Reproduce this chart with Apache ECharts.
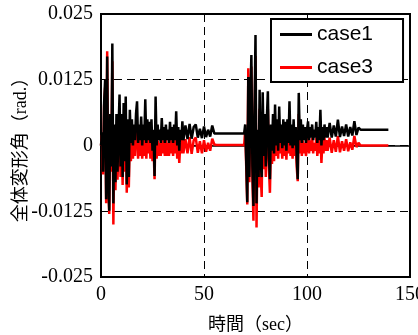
<!DOCTYPE html>
<html>
<head>
<meta charset="utf-8">
<script src="https://cdn.jsdelivr.net/npm/echarts@6/dist/echarts.min.js"></script>
<style>
html,body{margin:0;padding:0;background:#fff;}
#chart{width:418px;height:335px;}
</style>
</head>
<body>
<div id="chart"></div>
<script>
// time (sec)
var time = [
  0,0.5,1,1.5,2,2.5,3,3.5,4,4.5,
  5,5.5,6,6.5,7,7.5,8,8.5,9,9.5,
  10,10.5,11,11.5,12,12.5,13,13.5,14,14.5,
  15,15.5,16,16.5,17,17.5,18,18.5,19,19.5,
  20,20.5,21,21.5,22,22.5,23,23.5,24,24.5,
  25,25.5,26,26.5,27,27.5,28,28.5,29,29.5,
  30,30.5,31,31.5,32,32.5,33,33.5,34,34.5,
  35,35.5,36,36.5,37,37.5,38,38.5,39,39.5,
  40,41,42,43,44,45,46,47,48,49,
  50,51,52,53,54,55,56,69.5,
  70,70.5,71,71.5,72,72.5,73,73.5,74,74.5,
  75,75.5,76,76.5,77,77.5,78,78.5,79,79.5,
  80,80.5,81,81.5,82,82.5,83,83.5,84,84.5,
  85,85.5,86,86.5,87,87.5,88,88.5,89,89.5,
  90,90.5,91,91.5,92,92.5,93,93.5,94,94.5,
  95,95.5,96,96.5,97,97.5,98,98.5,99,99.5,
  100,100.5,101,101.5,102,102.5,103,103.5,104,104.5,
  105,105.5,106,106.5,107,107.5,108,108.5,109,109.5,
  110,111,112,113,114,115,116,117,118,119,
  120,121,122,123,124,125,126,139.5
];
// case1 (rad.)
var case1 = [
  0,0.0025,-0.005,0.008,0.0125,-0.0102,0.0169,-0.006,-0.0124,0.006,
  -0.004,0.0194,-0.011,0.004,-0.007,0.006,-0.005,0.003,0.0097,-0.004,
  0.006,-0.006,0.0081,-0.003,0.0093,-0.0074,0.005,-0.006,0.0068,0.0005,
  0.005,0,0.004,0.001,0.006,0.0084,0.0005,0.004,0.001,0.0055,
  0,0.004,0.001,0.0088,0.0005,0.005,0.001,0.0045,0.0005,0.005,
  -0.001,0.003,-0.0058,0.0093,0,0.004,0.001,0.003,0.0005,0.0052,
  0.001,0.0035,0.0005,0.004,0.001,0.003,0.0005,0.0045,0.001,0.0035,
  0.0005,0.004,0.001,0.0065,0,0.0035,-0.001,0.003,0.001,0.0046,
  0.001,0.0038,0.0012,0.0041,0.0013,0.0035,0.004,0.0015,0.0032,0.0014,
  0.0036,0.0016,0.003,0.0017,0.0038,0.0023,0.0023,0.0023,
  0.004,-0.003,-0.0108,0.013,-0.006,0.009,0.0172,-0.004,-0.0115,0.006,
  0.021,-0.011,0.003,-0.006,0.0106,-0.003,-0.006,0.0101,-0.002,0.006,
  -0.004,0.005,0.0103,-0.002,-0.0064,0.004,-0.001,0.006,-0.0015,0.0078,
  0,0.005,-0.001,0.0074,0.0005,0.004,-0.0005,0.005,0,0.0045,
  -0.001,0.005,0.0005,0.0084,0,0.004,-0.0005,0.005,0,0.0035,
  -0.002,-0.0064,0.01,0.001,0.005,0.0005,0.004,0.001,0.0035,0.0005,
  0.003,0.0046,0.001,0.0035,0.0015,0.004,0.001,0.003,0.0015,0.0045,
  0.0005,0.0035,0.001,0.0068,0,0.0035,0.001,0.004,0.0015,0.0035,
  0.0015,0.0043,0.0015,0.0038,0.0017,0.0049,0.0016,0.0036,0.0018,0.004,
  0.0017,0.0035,0.0019,0.0046,0.002,0.0034,0.003,0.003
];
// case3 (rad.)
var case3 = [
  0,0.002,-0.0055,0.0075,0.011,-0.011,0.0179,-0.007,-0.013,0.004,
  -0.005,0.016,-0.015,0.002,-0.0085,0.003,-0.0065,0,0.006,-0.006,
  0.003,-0.0075,0.004,-0.005,0.005,-0.009,0.001,-0.008,0.002,-0.003,
  0.002,-0.0025,0.001,-0.002,0.0025,0.004,-0.0025,0.0015,-0.002,0.002,
  -0.0025,0.001,-0.002,0.004,-0.0025,0.002,-0.0015,0.0015,-0.0025,0.002,
  -0.003,0,-0.0064,0.004,-0.0025,0.001,-0.002,0.0005,-0.002,0.0015,
  -0.0015,0.001,-0.002,0.0015,-0.002,0.0005,-0.002,0.0015,-0.0015,0.001,
  -0.002,0.0015,-0.0015,0.003,-0.0025,0.001,-0.0033,0.0005,-0.0015,0.002,
  -0.0015,0.0012,-0.0015,0.0016,-0.0016,0.001,0.0015,-0.0014,0.0008,-0.0015,
  0.001,-0.0012,0.0005,-0.001,0.0013,0.0002,0.0001,0.0001,
  0.003,-0.004,-0.0112,0.0147,-0.007,0.007,0.015,-0.006,-0.0143,0.004,
  0.017,-0.0156,0.001,-0.008,0.007,-0.005,-0.0098,0.006,-0.0045,0.003,
  -0.006,0.002,0.007,-0.004,-0.009,0.001,-0.0035,0.003,-0.003,0.004,
  -0.002,0.002,-0.0025,0.0035,-0.0015,0.001,-0.0025,0.002,-0.002,0.0015,
  -0.0027,0.002,-0.0015,0.0045,-0.002,0.001,-0.0025,0.002,-0.002,0.0005,
  -0.004,-0.0068,0.006,-0.0015,0.002,-0.002,0.001,-0.0015,0.0005,-0.002,
  0,0.0015,-0.0015,0.001,-0.001,0.0015,-0.0015,0.0005,-0.001,0.0015,
  -0.002,0.001,-0.0015,0.003,-0.0033,0.001,-0.0015,0.0015,-0.001,0.001,
  -0.001,0.0015,-0.0014,0.001,-0.0012,0.0018,-0.0013,0.0008,-0.001,0.0012,
  -0.0011,0.0006,-0.0008,0.0018,-0.0003,0.0005,0,0
];
var seriesNames = ['case1', 'case3'];
var xTicks = [0, 50, 100, 150];
var yTicks = [-0.025, -0.0125, 0, 0.0125, 0.025];
var yTickLabels = ['-0.025', '-0.0125', '0', '0.0125', '0.025'];
var xName = '時間（sec）';
var yName = '全体変形角（rad.）';

function pairs(t, v) {
  var out = [];
  for (var i = 0; i < t.length; i++) out.push([t[i], v[i]]);
  return out;
}

var serif = "'Liberation Serif', 'Times New Roman', 'Noto Sans CJK JP', serif";
var dash = { color: '#000', width: 1, type: [8, 5] };

var chart = echarts.init(document.getElementById('chart'), null, { renderer: 'canvas' });
chart.setOption({
  animation: false,
  backgroundColor: '#fff',
  grid: { left: 101, right: 8, top: 14, bottom: 58, containLabel: false, outerBoundsMode: 'none',
          show: true, borderColor: '#000', borderWidth: 2, backgroundColor: 'transparent' },
  legend: {
    data: seriesNames,
    orient: 'vertical',
    left: 271, top: 19,
    padding: [5, 30, 4, 9],
    itemGap: 12,
    icon: 'rect',
    itemWidth: 32, itemHeight: 3,
    backgroundColor: '#fff',
    borderColor: '#000', borderWidth: 2,
    textStyle: { fontFamily: "'Liberation Sans', Arial, sans-serif", fontSize: 21, color: '#000' }
  },
  xAxis: [{
    type: 'value', min: xTicks[0], max: xTicks[xTicks.length - 1], interval: 50,
    position: 'bottom',
    name: xName, nameLocation: 'middle', nameGap: 39, nameMoveOverlap: false,
    nameTextStyle: { fontFamily: serif, fontSize: 18, color: '#000' },
    axisLine: { onZero: false, lineStyle: { color: '#000', width: 2 } },
    axisTick: { show: false },
    axisLabel: { fontFamily: serif, fontSize: 20, color: '#000', margin: 8, hideOverlap: false },
    splitLine: { show: true, lineStyle: dash }
  }, {
    type: 'value', min: xTicks[0], max: xTicks[xTicks.length - 1],
    position: 'bottom',
    axisLine: { show: true, onZero: true, lineStyle: { color: '#000', width: 1.5 } },
    axisTick: { show: false }, axisLabel: { show: false }, splitLine: { show: false }
  }],
  yAxis: {
    type: 'value', min: yTicks[0], max: yTicks[yTicks.length - 1], interval: 0.0125,
    name: yName, nameLocation: 'middle', nameGap: 71, nameRotate: 90, nameMoveOverlap: false,
    nameTextStyle: { fontFamily: serif, fontSize: 18, color: '#000' },
    axisLine: { lineStyle: { color: '#000', width: 2 } },
    axisTick: { show: false },
    axisLabel: {
      fontFamily: serif, fontSize: 20, color: '#000', margin: 8,
      formatter: function (v) {
        for (var i = 0; i < yTicks.length; i++) if (Math.abs(v - yTicks[i]) < 1e-9) return yTickLabels[i];
        return '';
      }
    },
    splitLine: { show: true, lineStyle: dash }
  },
  series: [{
    name: 'case3', type: 'line', data: pairs(time, case3), symbol: 'none',
    lineStyle: { color: '#ff0000', width: 2.5 }, itemStyle: { color: '#ff0000' }, z: 2
  }, {
    name: 'case1', type: 'line', data: pairs(time, case1), symbol: 'none',
    lineStyle: { color: '#000000', width: 2.5 }, itemStyle: { color: '#000000' }, z: 3
  }]
});
</script>
</body>
</html>
